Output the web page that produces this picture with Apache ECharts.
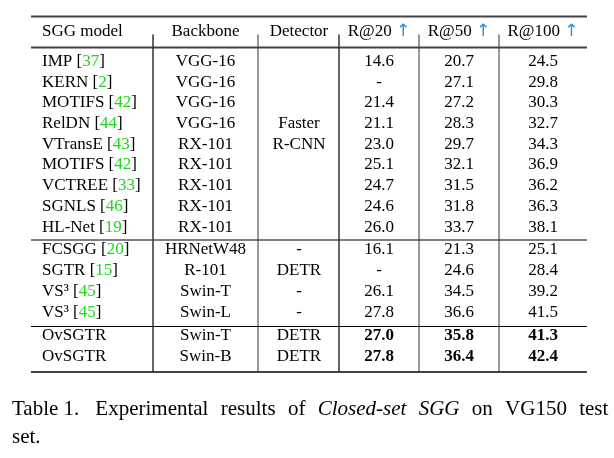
<!DOCTYPE html>
<html>
<head>
<meta charset="utf-8">
<script src="https://cdn.jsdelivr.net/npm/echarts@6/dist/echarts.min.js"></script>
<style>html,body{margin:0;padding:0;background:#fff}#c{width:614px;height:458px}</style>
</head>
<body>
<div id="c"></div>
<script>
// ---- data ----
const headers = ['SGG model', 'Backbone', 'Detector', 'R@20', 'R@50', 'R@100'];
const models = ['IMP', 'KERN', 'MOTIFS', 'RelDN', 'VTransE', 'MOTIFS', 'VCTREE', 'SGNLS', 'HL-Net', 'FCSGG', 'SGTR', 'VS³', 'VS³', 'OvSGTR', 'OvSGTR'];
const refs = [37, 2, 42, 44, 43, 42, 33, 46, 19, 20, 15, 45, 45, null, null];
const backbones = ['VGG-16', 'VGG-16', 'VGG-16', 'VGG-16', 'RX-101', 'RX-101', 'RX-101', 'RX-101', 'RX-101', 'HRNetW48', 'R-101', 'Swin-T', 'Swin-L', 'Swin-T', 'Swin-B'];
const detectors = ['', '', '', 'Faster', 'R-CNN', '', '', '', '', '-', 'DETR', '-', '-', 'DETR', 'DETR'];
const r20 = [14.6, null, 21.4, 21.1, 23.0, 25.1, 24.7, 24.6, 26.0, 16.1, null, 26.1, 27.8, 27.0, 27.8];
const r50 = [20.7, 27.1, 27.2, 28.3, 29.7, 32.1, 31.5, 31.8, 33.7, 21.3, 24.6, 34.5, 36.6, 35.8, 36.4];
const r100 = [24.5, 29.8, 30.3, 32.7, 34.3, 36.9, 36.2, 36.3, 38.1, 25.1, 28.4, 39.2, 41.5, 41.3, 42.4];
const boldRows = [13, 14];
const captionLabel = 'Table 1.';
const captionWords = ['Experimental', 'results', 'of', 'Closed-set', 'SGG', 'on', 'VG150', 'test'];
const captionItalic = [false, false, false, true, true, false, false, false];
const captionLine2 = 'set.';

// ---- layout ----
const colX = [42, 205.5, 299, 379, 459, 543];
const colAlign = ['left', 'center', 'center', 'center', 'center', 'center'];
const headerY = 32;
const rowY = [62, 83, 103, 124, 145, 165, 186, 207, 228, 250, 271, 292, 313, 336, 357];
const tableLeft = 31, tableRight = 587;
const vLines = [153, 258, 339, 419, 499];
const FS = 17;
const SERIF = '"Liberation Serif","Times New Roman",serif';

const fmt = v => v === null ? '-' : v.toFixed(1);

// build cells
const cells = [];
headers.forEach((h, c) => {
  let t = h;
  if (c >= 3) t = h + ' {a|↑}';
  cells.push({ x: colX[c], y: headerY, text: t, align: colAlign[c], bold: false });
});
models.forEach((m, r) => {
  const ref = refs[r] === null ? '' : ' {k|[}{g|' + refs[r] + '}{k|]}';
  const bold = boldRows.includes(r);
  cells.push({ x: colX[0], y: rowY[r], text: m + ref, align: 'left', bold: false });
  cells.push({ x: colX[1], y: rowY[r], text: backbones[r], align: 'center', bold: false });
  if (detectors[r]) cells.push({ x: colX[2], y: rowY[r], text: detectors[r], align: 'center', bold: false });
  cells.push({ x: colX[3], y: rowY[r], text: fmt(r20[r]), align: 'center', bold: bold });
  cells.push({ x: colX[4], y: rowY[r], text: fmt(r50[r]), align: 'center', bold: bold });
  cells.push({ x: colX[5], y: rowY[r], text: fmt(r100[r]), align: 'center', bold: bold });
});

// rules
const topY = headerY - 15.5;
const headRuleY = (headerY + rowY[0]) / 2 + 0.5;
const mid1 = (rowY[8] + rowY[9]) / 2 + 1;
const mid2 = (rowY[12] + rowY[13]) / 2 + 2;
const botY = rowY[14] + 15;
const rules = [
  { x1: tableLeft, y1: topY, x2: tableRight, y2: topY, w: 2, c: '#444' },
  { x1: tableLeft, y1: headRuleY, x2: tableRight, y2: headRuleY, w: 2, c: '#444' },
  { x1: tableLeft, y1: mid1, x2: tableRight, y2: mid1, w: 1, c: '#000' },
  { x1: tableLeft, y1: mid2, x2: tableRight, y2: mid2, w: 1, c: '#000' },
  { x1: tableLeft, y1: botY, x2: tableRight, y2: botY, w: 2, c: '#444' }
];
vLines.forEach((x, i) => rules.push({ x1: x, y1: topY + 18, x2: x, y2: botY, w: i === 0 || i === 2 ? 1.5 : 1, c: '#333' }));

const rich = {
  a: { fill: '#2f8fe0', color: '#2f8fe0', fontSize: FS, fontFamily: '"DejaVu Sans",sans-serif' },
  g: { fill: '#19d919', color: '#19d919', fontSize: FS, fontFamily: SERIF },
  k: { fill: '#000', color: '#000', fontSize: FS, fontFamily: SERIF }
};

// justified caption: first line stretched
const capStyle = { fontFamily: SERIF, fontSize: 21, color: '#000', fontWeight: 'normal', lineHeight: 28 };
let capText = '{n|' + captionLabel + '}{s|}';
captionWords.forEach((w, i) => {
  capText += (i > 0 ? '{w|}' : '') + '{' + (captionItalic[i] ? 'i' : 'n') + '|' + w + '}';
});
capText += '\n{n|' + captionLine2 + '}';

const chart = echarts.init(document.getElementById('c'), null, { renderer: 'canvas' });
chart.setOption({
  animation: false,
  backgroundColor: '#fff',
  title: {
    left: 12, top: 395.5, padding: 0,
    text: capText,
    textStyle: {
      fontWeight: 'normal',
      rich: {
        n: capStyle,
        s: Object.assign({}, capStyle, { width: 16 }),
        w: Object.assign({}, capStyle, { width: 12.3 }),
        i: Object.assign({}, capStyle, { fontStyle: 'italic' })
      }
    }
  },
  grid: { left: 0, right: 0, top: 0, bottom: 0 },
  xAxis: { type: 'value', min: 0, max: 614, show: false },
  yAxis: { type: 'value', min: 0, max: 458, inverse: true, show: false },
  series: [
    {
      type: 'custom',
      silent: true,
      data: rules.map(r => [r.x1, r.y1, r.x2, r.y2]),
      renderItem: (params, api) => {
        const r = rules[params.dataIndex];
        const p1 = api.coord([api.value(0), api.value(1)]);
        const p2 = api.coord([api.value(2), api.value(3)]);
        return {
          type: 'line',
          shape: { x1: p1[0], y1: p1[1], x2: p2[0], y2: p2[1] },
          style: { stroke: r.c, lineWidth: r.w }
        };
      }
    },
    {
      type: 'custom',
      silent: true,
      data: cells.map(c => [c.x, c.y]),
      renderItem: (params, api) => {
        const c = cells[params.dataIndex];
        const p = api.coord([api.value(0), api.value(1)]);
        return {
          type: 'text',
          x: p[0], y: p[1],
          style: {
            text: c.text,
            fill: '#000',
            fontSize: FS,
            fontFamily: SERIF,
            fontWeight: c.bold ? 'bold' : 'normal',
            align: c.align,
            verticalAlign: 'middle',
            rich: rich
          }
        };
      }
    }
  ]
});
</script>
</body>
</html>
